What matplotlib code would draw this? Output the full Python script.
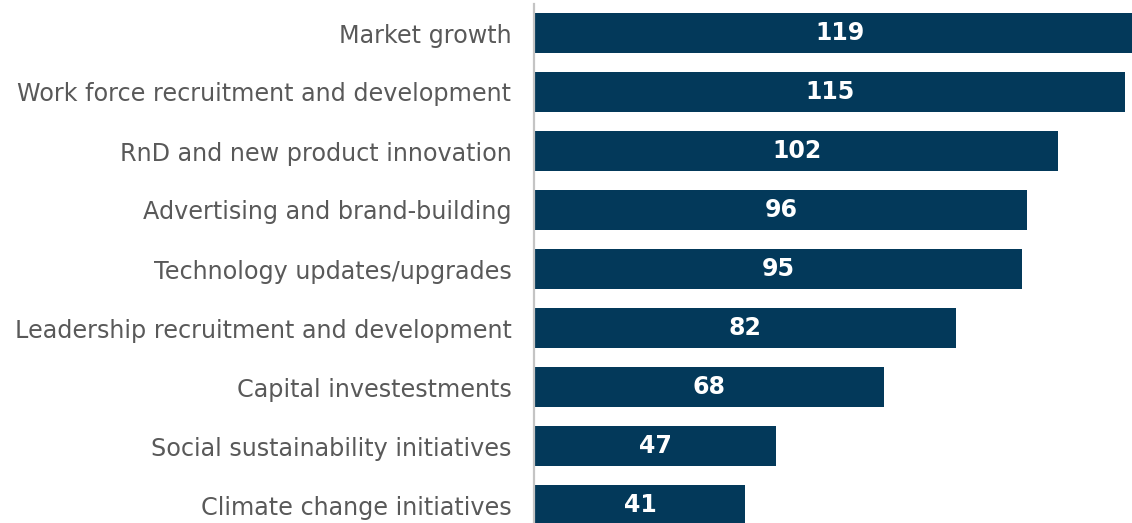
import matplotlib.pyplot as plt

categories = [
    "Market growth",
    "Work force recruitment and development",
    "RnD and new product innovation",
    "Advertising and brand-building",
    "Technology updates/upgrades",
    "Leadership recruitment and development",
    "Capital investestments",
    "Social sustainability initiatives",
    "Climate change initiatives",
]
values = [119, 115, 102, 96, 95, 82, 68, 47, 41]

BAR_COLOR = "#03395a"
LABEL_COLOR = "#595959"

W, H = 1132, 523
fig = plt.figure(figsize=(W / 100, H / 100), dpi=100)
ax = fig.add_axes([535 / W, 0, (W - 535) / W, 1])

pos = list(range(len(categories)))
ax.barh(pos, values, height=0.67, color=BAR_COLOR)

# 5.13 px per unit -> longest bar runs off the right edge, like the source
ax.set_xlim(0, (W - 535) / 5.13)
ax.set_ylim((H - 33) / 59, -33 / 59)

for p, v in zip(pos, values):
    ax.text(v / 2, p, str(v), ha="center", va="center", color="white",
            fontsize=17, fontweight="bold", clip_on=False)

for spine in ax.spines.values():
    spine.set_visible(False)
ax.set_xticks([])
ax.set_yticks(pos)
ax.set_yticklabels(categories, fontsize=17.2, color=LABEL_COLOR)
ax.tick_params(axis="y", length=0, pad=17)

# grey category axis line
fig.add_artist(plt.Line2D([533.5 / W, 533.5 / W], [0, 1 - 4 / H],
                          color="#c4c4c4", linewidth=1.6))

fig.savefig("out.png", dpi=100)
